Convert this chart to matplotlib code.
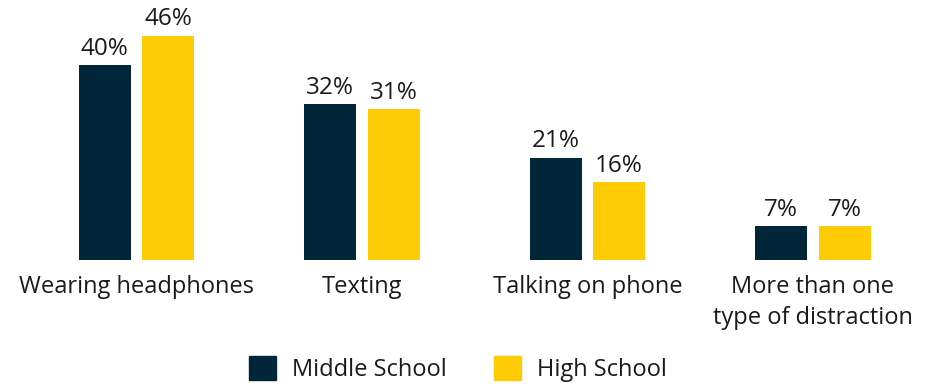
import matplotlib.pyplot as plt
import matplotlib.patches as mpatches
import numpy as np

plt.rcParams['font.family'] = ['Open Sans', 'DejaVu Sans']

categories = ['Wearing headphones', 'Texting', 'Talking on phone', 'More than one\ntype of distraction']
middle_school = [40, 32, 21, 7]
high_school = [46, 31, 16, 7]
series_names = ['Middle School', 'High School']

navy = '#022639'
yellow = '#FFCB05'
text_color = '#1a1a1a'

fig = plt.figure(figsize=(9.32, 3.84), dpi=100)
ax = fig.add_axes([0, 0.3229, 1, 0.6771])

x = np.arange(len(categories))
width = 0.23
offset = 0.141

b1 = ax.bar(x - offset, middle_school, width, color=navy)
b2 = ax.bar(x + offset, high_school, width, color=yellow)

for bars, vals in [(b1, middle_school), (b2, high_school)]:
    for bar, v in zip(bars, vals):
        ax.annotate('{}%'.format(v), (bar.get_x() + bar.get_width() / 2, v),
                    xytext=(0, 3), textcoords='offset points',
                    ha='center', va='bottom', fontsize=17.5, color=text_color)

ax.set_xlim(-0.605, 3.528)
ax.set_ylim(0, 53.3)
ax.set_xticks(x)
ax.set_xticklabels(categories, fontsize=17, color=text_color, linespacing=1.35)
ax.tick_params(axis='x', length=0, pad=11)
ax.set_yticks([])
for s in ax.spines.values():
    s.set_visible(False)

ms = mpatches.Patch(color=navy, label=series_names[0])
hs = mpatches.Patch(color=yellow, label=series_names[1])
fig.legend(handles=[ms, hs], loc='lower center', bbox_to_anchor=(0.491, -0.05), ncol=2,
           frameon=False, fontsize=17, handlelength=1.14, handleheight=1.14,
           handletextpad=0.68, columnspacing=2.0, labelcolor=text_color)

plt.savefig('out.png', dpi=100)
